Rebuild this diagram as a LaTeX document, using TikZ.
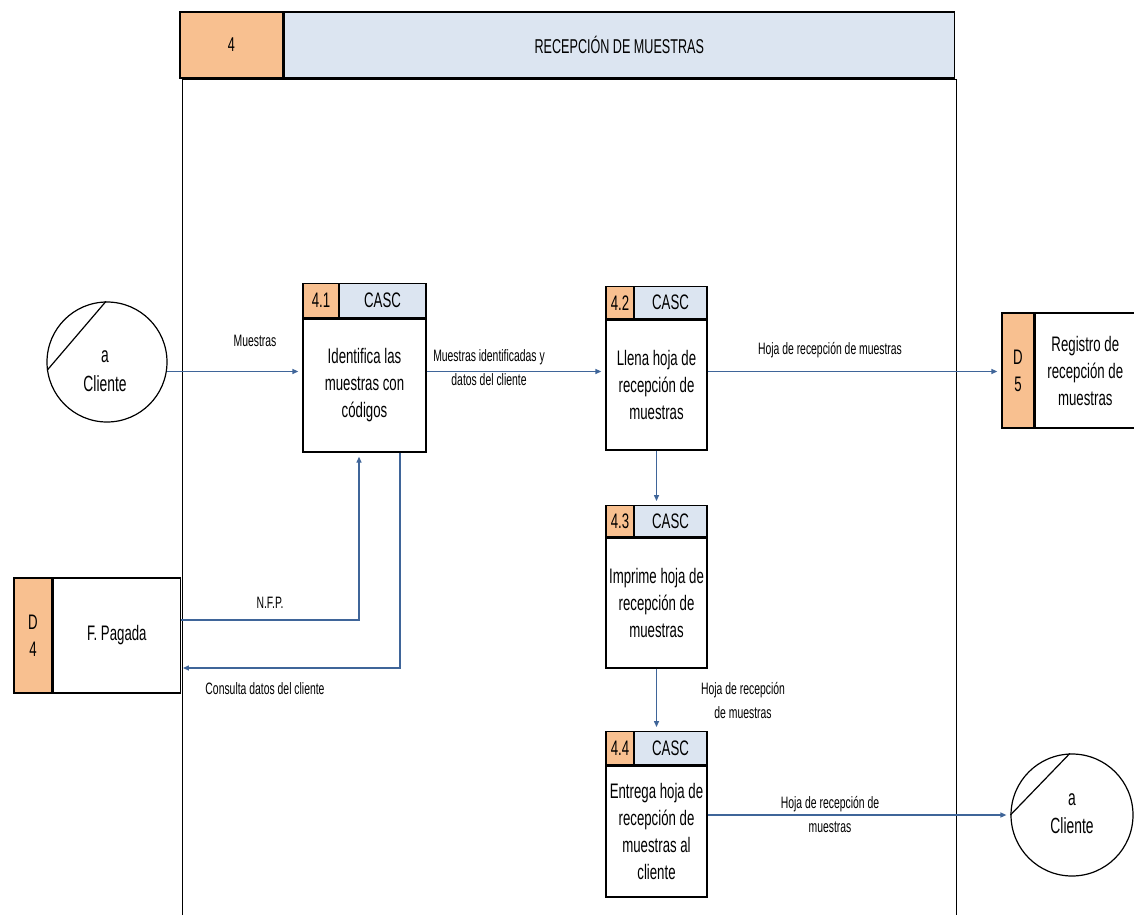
\documentclass[tikz,border=0pt]{standalone}
\usepackage{fontspec}
\setmainfont{Liberation Sans}[FakeStretch=0.63]
\usetikzlibrary{arrows.meta}
\definecolor{cellorange}{HTML}{F8C090}
\definecolor{cellblue}{HTML}{DCE5F1}
\definecolor{flowblue}{HTML}{3F6599}
\begin{document}
\begin{tikzpicture}[x=1pt,y=-1pt,
  box/.style={draw=black, line width=1.3pt, inner sep=0pt, align=center},
  idcell/.style={box, fill=cellorange},
  rolecell/.style={box, fill=cellblue},
  bodycell/.style={box, fill=white, font=\fontsize{21}{27}\selectfont},
  hdrfont/.style={font=\fontsize{20}{24}\selectfont},
  cellfont/.style={font=\fontsize{21}{24}\selectfont},
  lbl/.style={inner sep=0pt, align=center, font=\fontsize{16.5}{24}\selectfont},
  extent/.style={circle, draw=black, line width=1.2pt, inner sep=0pt, minimum size=120},
  lane/.style={draw=black, line width=1pt},
  flow/.style={draw=flowblue, line width=1.3pt, -{Triangle[length=6pt,width=5pt]}, shorten >=4pt}]
\useasboundingbox (0,0) rectangle (1134,915);

% swim lane and its title bar
\draw[lane] (182,915) -- (182,80) -- (956,80) -- (956,915);
\node[idcell, hdrfont, minimum width=103, minimum height=66] (hnum) at (231.5,45) {4};
\node[rolecell, hdrfont, anchor=west, minimum width=670, minimum height=66] (htitle) at (hnum.east) {RECEPCIÓN DE MUESTRAS};

% process 4.1
\node[bodycell, minimum width=123, minimum height=133] (b41) at (364.5,385.5) {Identifica las\\muestras con\\códigos};
\node[idcell, cellfont, anchor=south west, minimum width=36, minimum height=34] (n41) at (b41.north west) {\raisebox{-7pt}{4.1}};
\node[rolecell, cellfont, anchor=south east, minimum width=87, minimum height=34] (c41) at (b41.north east) {CASC};

% process 4.2
\node[bodycell, minimum width=101, minimum height=130] (b42) at (656.5,385) {Llena hoja de\\recepción de\\muestras};
\node[idcell, cellfont, anchor=south west, minimum width=28, minimum height=32] (n42) at (b42.north west) {4.2};
\node[rolecell, cellfont, anchor=south east, minimum width=73, minimum height=32] (c42) at (b42.north east) {CASC};

% process 4.3
\node[bodycell, minimum width=101, minimum height=130] (b43) at (656.5,603) {Imprime hoja de\\recepción de\\muestras};
\node[idcell, cellfont, anchor=south west, minimum width=28, minimum height=31] (n43) at (b43.north west) {4.3};
\node[rolecell, cellfont, anchor=south east, minimum width=73, minimum height=31] (c43) at (b43.north east) {CASC};

% process 4.4
\node[bodycell, minimum width=101, minimum height=131] (b44) at (656.5,831.5) {Entrega hoja de\\recepción de\\muestras al\\cliente};
\node[idcell, cellfont, anchor=south west, minimum width=28, minimum height=33] (n44) at (b44.north west) {4.4};
\node[rolecell, cellfont, anchor=south east, minimum width=73, minimum height=33] (c44) at (b44.north east) {CASC};

% data stores
\node[bodycell, fill=cellorange, minimum width=32, minimum height=115] (d5id) at (1018,370.5) {D\\5};
\node[bodycell, anchor=west, minimum width=100, minimum height=115] (d5) at (d5id.east) {Registro de\\recepción de\\muestras};
\node[bodycell, fill=cellorange, minimum width=38, minimum height=115] (d4id) at (33,635.5) {D\\4};
\node[bodycell, anchor=west, minimum width=127, minimum height=115] (d4) at (d4id.east) {F. Pagada};

% external entities
\node[extent] (lc) at (107,362) {};
\draw[line width=1.2pt] (lc.91) -- (lc.188);
\node[inner sep=0pt, align=center, font=\fontsize{22}{29}\selectfont] (lct) at (105,371) {a\\Cliente};
\node[extent, minimum size=122] (rc) at (1072,815) {};
\draw[line width=1.2pt] (rc.92) -- (rc.180);
\node[inner sep=0pt, align=center, font=\fontsize{22}{28}\selectfont] (rct) at (1072,814) {a\\Cliente};

% data flows
\draw[flow] (lc.-9) -- (lc.-9 -| b41.west);
\draw[flow] (b41.east |- lc.-9) -- (b42.west |- lc.-9);
\draw[flow] (b42.east |- lc.-9) -- (d5id.west |- lc.-9);
\draw[flow] (b42.south) -- (b42.south |- n43.north);
\draw[flow] (b43.south) -- (b43.south |- n44.north);
\draw[flow] (b44.east |- rc.west) -- (rc.west);
\draw[flow] ([yshift=15.5pt]d4.east) -| ([xshift=-5.5pt]b41.south);
\draw[flow, shorten >=2pt] ([xshift=35.5pt]b41.south) |- ([yshift=-32.5pt]d4.east);

% flow labels
\node[lbl] (lmue) at (255,341) {Muestras};
\node[lbl] (lmid) at (489,368) {Muestras identificadas y\\datos del cliente};
\node[lbl] (lhoja1) at (830,350) {Hoja de recepción de muestras};
\node[lbl] (lhoja2) at (743,700) {Hoja de recepción\\de muestras};
\node[lbl] (lhoja3) at (830,814) {Hoja de recepción de\\muestras};
\node[lbl] (lnfp) at (270,603) {N.F.P.};
\node[lbl] (lcons) at (265,689) {Consulta datos del cliente};
\end{tikzpicture}
\end{document}
